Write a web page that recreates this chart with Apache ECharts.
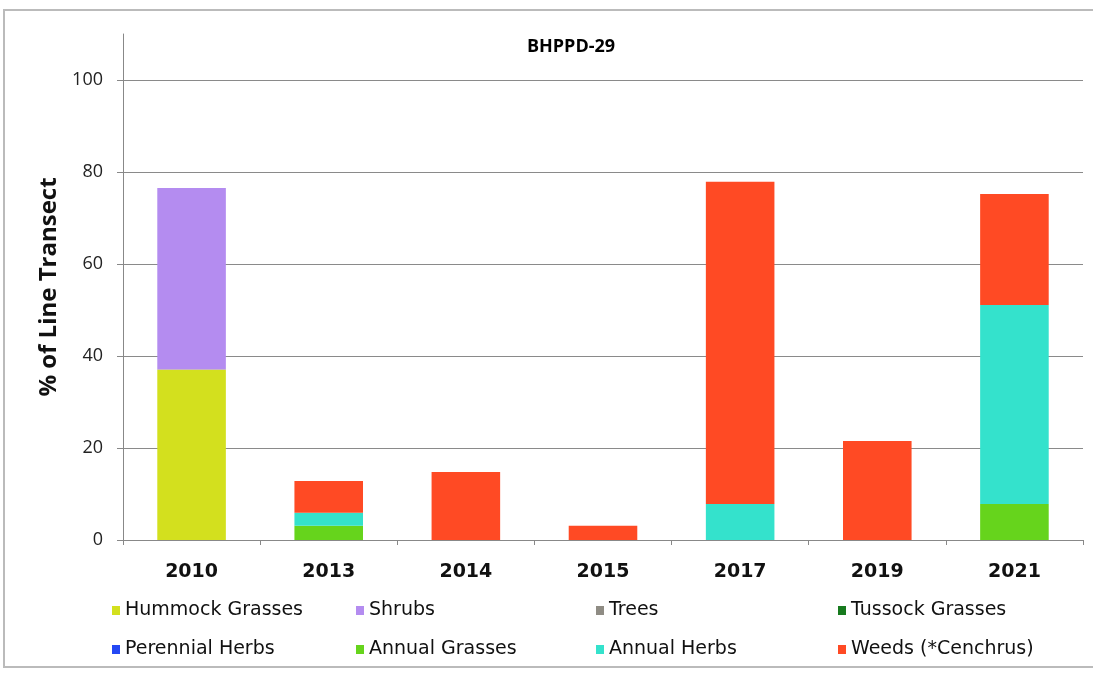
<!DOCTYPE html>
<html>
<head>
<meta charset="utf-8">
<script src="https://cdn.jsdelivr.net/npm/echarts@6/dist/echarts.min.js"></script>
<style>
html,body{margin:0;padding:0;background:#fff;}
#chart{width:1093px;height:680px;}
</style>
</head>
<body>
<div id="chart"></div>
<script>
const categories = ['2010','2013','2014','2015','2017','2019','2021'];
const seriesNames = ['Hummock Grasses','Shrubs','Trees','Tussock Grasses','Perennial Herbs','Annual Grasses','Annual Herbs','Weeds (*Cenchrus)'];
const hummockGrasses = [37, 0, 0, 0, 0, 0, 0];
const shrubs         = [39.5, 0, 0, 0, 0, 0, 0];
const trees          = [0, 0, 0, 0, 0, 0, 0];
const tussockGrasses = [0, 0, 0, 0, 0, 0, 0];
const perennialHerbs = [0, 0, 0, 0, 0, 0, 0];
const annualGrasses  = [0, 3.1, 0, 0, 0, 0, 7.8];
const annualHerbs    = [0, 2.8, 0, 0, 7.8, 0, 43.3];
const weeds          = [0, 6.9, 14.8, 3.1, 70.1, 21.5, 24.1];
const yTicks = [0, 20, 40, 60, 80, 100];

const seriesData = [hummockGrasses, shrubs, trees, tussockGrasses, perennialHerbs, annualGrasses, annualHerbs, weeds];
const colors = ['#d3e01e','#b48cf0','#8f8c84','#177a1e','#2448f4','#66d41c','#34e2cc','#ff4a24'];

const legendPos = [
  [112, 601],[356, 601],[596, 601],[838, 601],
  [112, 640],[356, 640],[596, 640],[838, 640]
];

const legends = seriesNames.map((n, i) => ({
  data: [n],
  left: legendPos[i][0],
  top: legendPos[i][1],
  icon: 'rect',
  itemWidth: 8,
  itemHeight: 9,
  itemGap: 0,
  padding: 0,
  textStyle: {fontFamily: 'DejaVu Sans', fontSize: 19, color: '#111', padding: [0,0,0,0]},
  selectedMode: false
}));

const chart = echarts.init(document.getElementById('chart'), null, {renderer: 'canvas'});
chart.setOption({
  animation: false,
  backgroundColor: '#fff',
  color: colors,
  title: {
    text: 'BHPPD-29',
    left: 566, top: 33, textAlign: 'center',
    textStyle: {fontFamily: 'Open Sans', fontWeight: 'bold', fontSize: 18, color: '#000'}
  },
  legend: legends,
  graphic: [{
    type: 'rect', shape: {x: 4, y: 10, width: 1100, height: 657},
    style: {fill: 'none', stroke: '#bbb', lineWidth: 2}, silent: true
  }],
  grid: {left: 123, right: 10, top: 34, bottom: 140},
  xAxis: {
    type: 'category',
    data: categories,
    axisLine: {lineStyle: {color: '#888', width: 1}},
    axisTick: {show: true, inside: false, length: 5, lineStyle: {color: '#888'}},
    axisLabel: {fontFamily: 'DejaVu Sans', fontWeight: 'bold', fontSize: 19, color: '#111', margin: 23}
  },
  yAxis: {
    type: 'value',
    min: 0, max: 110, interval: 20,
    name: '% of Line Transect',
    nameLocation: 'middle',
    nameGap: 61,
    nameTextStyle: {fontFamily: 'Open Sans', fontWeight: 'bold', fontSize: 24, color: '#111'},
    axisLine: {show: true, lineStyle: {color: '#888'}},
    axisTick: {show: true, length: 6, lineStyle: {color: '#888'}, customValues: yTicks},
    splitLine: {show: false},
    axisLabel: {
      fontFamily: 'Open Sans', fontSize: 18, color: '#222', margin: 20,
      customValues: yTicks,
      formatter: v => (yTicks.indexOf(v) >= 0 ? String(v) : '')
    }
  },
  series: seriesNames.map((n, i) => {
    const s = {
      name: n,
      type: 'bar',
      stack: 'total',
      barWidth: '50%',
      data: seriesData[i],
      itemStyle: {color: colors[i]}
    };
    if (i === 0) {
      s.markLine = {
        silent: true,
        symbol: ['none', 'none'],
        label: {show: false},
        z: 0,
        lineStyle: {color: '#8a8a8a', width: 1, type: 'solid'},
        data: yTicks.filter(v => v > 0).map(v => ({yAxis: v}))
      };
      s.z = 3;
    }
    return s;
  })
});
</script>
</body>
</html>
